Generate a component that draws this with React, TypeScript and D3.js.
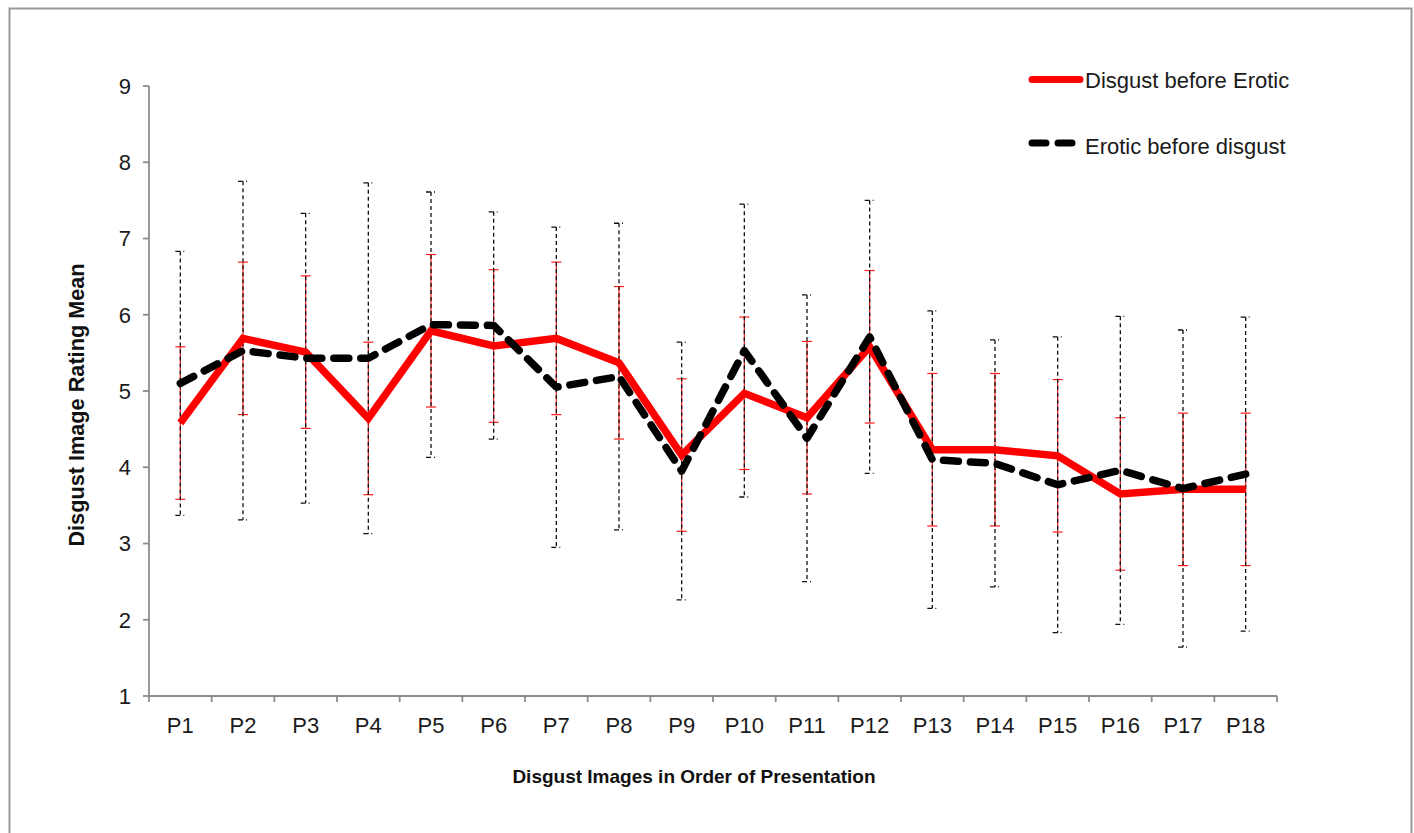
import React from "react";
import * as d3 from "d3";

const categories = ["P1","P2","P3","P4","P5","P6","P7","P8","P9","P10","P11","P12","P13","P14","P15","P16","P17","P18"];
const disgustBeforeErotic = [4.58,5.69,5.51,4.64,5.79,5.59,5.69,5.37,4.16,4.97,4.65,5.58,4.23,4.23,4.15,3.65,3.71,3.71];
const disgustBeforeEroticErr = [1.0,1.0,1.0,1.0,1.0,1.0,1.0,1.0,1.0,1.0,1.0,1.0,1.0,1.0,1.0,1.0,1.0,1.0];
const eroticBeforeDisgust = [5.10,5.53,5.43,5.43,5.87,5.86,5.05,5.19,3.95,5.53,4.38,5.71,4.10,4.05,3.77,3.96,3.72,3.91];
const eroticBeforeDisgustErr = [1.73,2.22,1.90,2.30,1.74,1.49,2.10,2.01,1.69,1.92,1.88,1.79,1.95,1.62,1.94,2.02,2.08,2.06];
const yTicks = [1,2,3,4,5,6,7,8,9];
const legendLabels = ["Disgust before Erotic", "Erotic before disgust"];

const W = 1414, H = 833;
const left = 149, right = 1277, top = 86, bottom = 696;
const FONT = "'Liberation Sans', Arial, sans-serif";

export default function App() {
  const x = d3.scaleBand<string>().domain(categories).range([left, right]).paddingInner(0).paddingOuter(0);
  const y = d3.scaleLinear().domain([1, 9]).range([bottom, top]);
  const cx = (c: string) => (x(c) as number) + x.bandwidth() / 2;
  const line = d3.line<number>().x((_, i) => cx(categories[i])).y((d) => y(d));

  return (
    <svg width={W} height={H} style={{ position: "absolute", left: 0, top: 0, background: "#fff" }} fontFamily={FONT}>
      <rect x={9.5} y={8.5} width={1402} height={840} fill="#fff" stroke="#999" strokeWidth={2} />
      {/* axes */}
      <line x1={left} x2={left} y1={top} y2={bottom} stroke="#8c8c8c" strokeWidth={1.8} />
      <line x1={left} x2={right} y1={bottom} y2={bottom} stroke="#8c8c8c" strokeWidth={1.8} />
      {yTicks.map((t) => (
        <g key={t}>
          <line x1={left - 6} x2={left} y1={y(t)} y2={y(t)} stroke="#8c8c8c" strokeWidth={1.8} />
          <text x={131} y={y(t)} dy="0.36em" textAnchor="end" fontSize={22} fill="#1a1a1a">{t}</text>
        </g>
      ))}
      {d3.range(categories.length + 1).map((i) => {
        const xx = left + i * x.bandwidth();
        return <line key={i} x1={xx} x2={xx} y1={bottom} y2={bottom + 6} stroke="#8c8c8c" strokeWidth={1.8} />;
      })}
      {categories.map((c) => (
        <text key={c} x={cx(c)} y={733} textAnchor="middle" fontSize={22} fill="#1a1a1a">{c}</text>
      ))}
      <text x={694} y={783} textAnchor="middle" fontSize={19} fontWeight="bold" fill="#111">Disgust Images in Order of Presentation</text>
      <text transform={`translate(84,405) rotate(-90)`} textAnchor="middle" fontSize={21.7} fontWeight="bold" fill="#111">Disgust Image Rating Mean</text>

      {/* error bars: red */}
      {categories.map((c, i) => {
        const xx = cx(c);
        const hi = y(disgustBeforeErotic[i] + disgustBeforeEroticErr[i]);
        const lo = y(disgustBeforeErotic[i] - disgustBeforeEroticErr[i]);
        return (
          <g key={"r" + c} stroke="#ff1a1a" strokeWidth={1.2}>
            <line x1={xx} x2={xx} y1={hi} y2={lo} />
            <line x1={xx - 5} x2={xx + 5} y1={hi} y2={hi} />
            <line x1={xx - 5} x2={xx + 5} y1={lo} y2={lo} />
          </g>
        );
      })}
      {/* error bars: black dashed */}
      {categories.map((c, i) => {
        const xx = cx(c);
        const hi = y(eroticBeforeDisgust[i] + eroticBeforeDisgustErr[i]);
        const lo = y(eroticBeforeDisgust[i] - eroticBeforeDisgustErr[i]);
        return (
          <g key={"b" + c} stroke="#111" strokeWidth={1.3}>
            <line x1={xx} x2={xx} y1={hi} y2={lo} strokeDasharray="4,3" />
            <line x1={xx - 5} x2={xx + 5} y1={hi} y2={hi} strokeDasharray="5,3,1,5" />
            <line x1={xx - 5} x2={xx + 5} y1={lo} y2={lo} strokeDasharray="5,3,1,5" />
          </g>
        );
      })}
      {/* lines */}
      <path d={line(disgustBeforeErotic) || ""} fill="none" stroke="#ff0000" strokeWidth={7.5} strokeLinejoin="miter" />
      <path d={line(eroticBeforeDisgust) || ""} fill="none" stroke="#000" strokeWidth={7.5} strokeDasharray="15,12" strokeLinecap="round" strokeLinejoin="round" />

      {/* legend */}
      <line x1={1032} x2={1080} y1={79.5} y2={79.5} stroke="#ff0000" strokeWidth={7} strokeLinecap="round" />
      <text x={1085} y={88} fontSize={22} fill="#1a1a1a">{legendLabels[0]}</text>
      <line x1={1032} x2={1078} y1={143} y2={143} stroke="#000" strokeWidth={7} strokeDasharray="14,12" strokeLinecap="round" />
      <text x={1085} y={154} fontSize={22} fill="#1a1a1a">{legendLabels[1]}</text>
    </svg>
  );
}
